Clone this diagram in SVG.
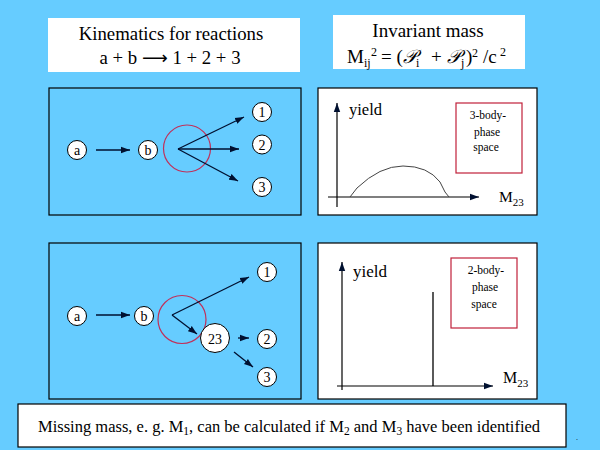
<svg xmlns="http://www.w3.org/2000/svg" width="600" height="450" viewBox="0 0 600 450" font-family="'Liberation Serif', 'DejaVu Serif', serif">
<style>
text, tspan{font-family:'Liberation Serif','DejaVu Serif',serif;fill:#000}
.panel{fill:#66CCFF;stroke:#000;stroke-width:1.2}
.wpanel{fill:#fff;stroke:#000;stroke-width:1.2}
.tbox{fill:#fff;stroke:none}
.node{fill:#fff;stroke:#000;stroke-width:1}
.nt{font-size:14px;text-anchor:middle}
.arr{stroke:#001030;stroke-width:1.3;fill:none;marker-end:url(#ah)}
.ring{fill:none;stroke:#C0305A;stroke-width:1.2}
.rbox{fill:#fff;stroke:#C0203A;stroke-width:1.2}
.axis{stroke:#000;stroke-width:1.2;fill:none;marker-end:url(#ah)}
.bt{font-size:11.5px;text-anchor:middle}
</style>
<defs>
<marker id="ah" markerUnits="userSpaceOnUse" markerWidth="10" markerHeight="8" refX="9" refY="4" orient="auto">
<path d="M0,0.8 L9,4 L0,7.2 Z" fill="#001030"/>
</marker>
</defs>
<rect width="600" height="450" fill="#66CCFF"/>

<g id="title-left">
<rect class="tbox" x="48" y="18" width="252" height="54"/>
<text x="171" y="40" font-size="18.8" text-anchor="middle">Kinematics for reactions</text>
<text x="170" y="64" font-size="18.8" text-anchor="middle">a + b <tspan style="font-family:'DejaVu Sans',sans-serif" font-size="18">⟶</tspan> 1 + 2 + 3</text>
</g>

<g id="title-right">
<rect class="tbox" x="333" y="15" width="192" height="54"/>
<text x="428" y="37" font-size="19" text-anchor="middle">Invariant mass</text>
<text font-size="19"><tspan x="347" y="63">M</tspan><tspan x="364" y="67" font-size="12">ij</tspan><tspan x="371" y="56" font-size="12">2</tspan><tspan x="381" y="63">= (</tspan><tspan x="403" y="63" font-style="italic">𝒫</tspan><tspan x="416" y="67" font-size="12">i</tspan><tspan x="431" y="63">+</tspan><tspan x="447" y="63" font-style="italic">𝒫</tspan><tspan x="461" y="67" font-size="12">j</tspan><tspan x="466" y="63">)</tspan><tspan x="472" y="57" font-size="12">2</tspan><tspan x="483" y="63">/c</tspan><tspan x="500" y="56" font-size="12">2</tspan></text>
</g>

<g id="panel-3body-kin">
<rect class="panel" x="49" y="88" width="252" height="127"/>
<circle class="ring" cx="187" cy="148.5" r="23.5"/>
</g>
<g id="connectors-top">
<line class="arr" x1="96" y1="150" x2="130" y2="150"/>
<line class="arr" x1="178" y1="149" x2="244" y2="117"/>
<line class="arr" x1="178" y1="149" x2="239" y2="149"/>
<line class="arr" x1="178" y1="149" x2="238" y2="181"/>
</g>
<g id="node-a-top"><circle class="node" cx="77" cy="150" r="9.5"/><text class="nt" x="77" y="155">a</text></g>
<g id="node-b-top"><circle class="node" cx="148" cy="150" r="9.5"/><text class="nt" x="148" y="155">b</text></g>
<g id="node-1-top"><circle class="node" cx="262" cy="112" r="9.5"/><text class="nt" x="262" y="117">1</text></g>
<g id="node-2-top"><circle class="node" cx="262" cy="144.5" r="9.5"/><text class="nt" x="262" y="149.5">2</text></g>
<g id="node-3-top"><circle class="node" cx="262" cy="187" r="9.5"/><text class="nt" x="262" y="192">3</text></g>

<g id="plot-3body">
<rect class="wpanel" x="318" y="88" width="219" height="127"/>
<line class="axis" x1="337" y1="207" x2="337" y2="103"/>
<line class="axis" x1="328" y1="197" x2="479" y2="197"/>
<path d="M350,197 L357,188 Q380,166 403,166 Q428,166 440,182 L445,192 L449,197" fill="none" stroke="#444" stroke-width="1"/>
<text x="349" y="115" font-size="16.5">yield</text>
<text x="499" y="202" font-size="15.5">M<tspan font-size="11" dy="4">23</tspan></text>
<rect class="rbox" x="456" y="103" width="66" height="70"/>
<text class="bt" x="488" y="119">3-body-</text>
<text class="bt" x="487" y="136">phase</text>
<text class="bt" x="486" y="151">space</text>
</g>

<g id="panel-2body-kin">
<rect class="panel" x="49" y="243" width="252" height="156"/>
<circle class="ring" cx="182" cy="319.5" r="24"/>
</g>
<g id="connectors-bottom">
<line class="arr" x1="96" y1="315" x2="130" y2="315"/>
<line class="arr" x1="172" y1="315" x2="249" y2="277"/>
<line class="arr" x1="172" y1="315" x2="197" y2="334"/>
<line class="arr" x1="238" y1="338" x2="249" y2="338"/>
<line class="arr" x1="234" y1="352" x2="253" y2="367"/>
</g>
<g id="node-a-bot"><circle class="node" cx="77" cy="316" r="9.5"/><text class="nt" x="77" y="321">a</text></g>
<g id="node-b-bot"><circle class="node" cx="144" cy="316" r="9.5"/><text class="nt" x="144" y="321">b</text></g>
<g id="node-23"><circle class="node" cx="215" cy="338" r="14.5"/><text class="nt" x="215" y="343.5" font-size="15.5">23</text></g>
<g id="node-1-bot"><circle class="node" cx="267" cy="272" r="9.5"/><text class="nt" x="267" y="277">1</text></g>
<g id="node-2-bot"><circle class="node" cx="267" cy="339" r="9.5"/><text class="nt" x="267" y="344">2</text></g>
<g id="node-3-bot"><circle class="node" cx="267" cy="377" r="9.5"/><text class="nt" x="267" y="382">3</text></g>

<g id="plot-2body">
<rect class="wpanel" x="318" y="243" width="219" height="156"/>
<line class="axis" x1="342" y1="390" x2="342" y2="262"/>
<line class="axis" x1="337" y1="386" x2="493" y2="386"/>
<line x1="433" y1="292" x2="433" y2="386" stroke="#000" stroke-width="1.3"/>
<text x="353" y="277" font-size="17">yield</text>
<text x="503" y="383" font-size="16">M<tspan font-size="11" dy="4">23</tspan></text>
<rect class="rbox" x="451" y="258" width="66" height="70"/>
<text class="bt" x="486" y="274">2-body-</text>
<text class="bt" x="485" y="291">phase</text>
<text class="bt" x="484" y="308">space</text>
</g>

<g id="note">
<rect x="18" y="404" width="548" height="43" fill="#fff" stroke="#000" stroke-width="1.2"/>
<text x="38" y="432" font-size="16.5">Missing mass, e. g. M<tspan font-size="11.5" dy="3">1</tspan><tspan dy="-3">, can be calculated if M</tspan><tspan font-size="11.5" dy="3">2</tspan><tspan dy="-3"> and M</tspan><tspan font-size="11.5" dy="3">3</tspan><tspan dy="-3"> have been identified</tspan></text>
</g>
<text x="576" y="440" font-size="8" fill="#333">.</text>
</svg>
